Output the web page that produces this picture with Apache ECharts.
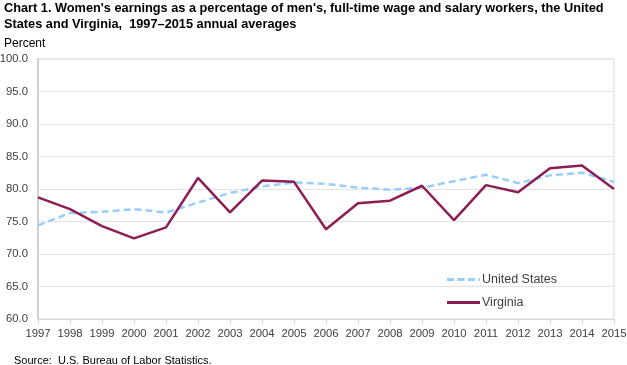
<!DOCTYPE html>
<html><head><meta charset="utf-8">
<script src="https://cdn.jsdelivr.net/npm/echarts@6/dist/echarts.min.js"></script>
<style>html,body{margin:0;padding:0;background:#fff}#c{width:627px;height:365px}</style>
</head><body><div id="c"></div>
<script>
const years = ['1997','1998','1999','2000','2001','2002','2003','2004','2005','2006','2007','2008','2009','2010','2011','2012','2013','2014','2015'];
const unitedStates = [74.4,76.3,76.5,76.9,76.4,77.9,79.4,80.4,81.0,80.8,80.2,79.9,80.2,81.2,82.2,80.9,82.1,82.5,81.1];
const virginia = [78.7,76.9,74.3,72.4,74.1,81.7,76.4,81.3,81.1,73.8,77.8,78.2,80.5,75.2,80.6,79.5,83.2,83.6,80.0];
const yTicks = {min:60,max:100,interval:5};

const dashIcon = 'path://M0,0h7v3h-7z M10.5,0h7v3h-7z M21,0h7v3h-7z M31.5,0h1.5v3h-1.5z';
const solidIcon = 'path://M0,0h33v3h-33z';

const chart = echarts.init(document.getElementById('c'), null, {renderer:'canvas'});
chart.setOption({
  animation:false,
  textStyle:{fontFamily:'Liberation Sans, Arial, sans-serif'},
  title:{
    text:"Chart 1. Women's earnings as a percentage of men's, full-time wage and salary workers, the United\nStates and Virginia,  1997\u20132015 annual averages",
    left:4, top:0, padding:0,
    textStyle:{fontSize:12.75, fontWeight:'bold', color:'#000', lineHeight:16.5, fontFamily:'Liberation Sans, Arial, sans-serif'}
  },
  graphic:[
    {type:'text', left:4, top:38, style:{text:'Percent', fontSize:12, fill:'#000', fontFamily:'Liberation Sans, Arial, sans-serif'}},
    {type:'text', left:14, top:355, style:{text:'Source:  U.S. Bureau of Labor Statistics.', fontSize:11, fill:'#000', fontFamily:'Liberation Sans, Arial, sans-serif'}}
  ],
  grid:{left:38, right:13, top:59, bottom:46, show:true, borderColor:'#d9d9d9', borderWidth:1, containLabel:false, outerBoundsMode:'none'},
  legend:{
    orient:'vertical', left:447, top:273, padding:0, itemWidth:33, itemHeight:3, itemGap:10,
    textStyle:{fontSize:12.5, color:'#404040', padding:[0,0,0,-3]},
    data:[{name:'United States', icon:dashIcon},{name:'Virginia', icon:solidIcon}]
  },
  xAxis:{
    type:'category', data:years, boundaryGap:false,
    axisLine:{lineStyle:{color:'#d9d9d9'}},
    axisTick:{show:true, length:5, interval:0, lineStyle:{color:'#d9d9d9'}},
    axisLabel:{color:'#404040', fontSize:11.3, margin:9, interval:0, hideOverlap:false},
    splitLine:{show:false}
  },
  yAxis:{
    type:'value', min:yTicks.min, max:yTicks.max, interval:yTicks.interval,
    axisLine:{show:true, lineStyle:{color:'#d0d0d0', width:2}},
    axisTick:{show:false},
    axisLabel:{color:'#404040', fontSize:11.3, margin:10, formatter:v=>v.toFixed(1)},
    splitLine:{lineStyle:{color:'#e3e3e3'}}
  },
  series:[
    {name:'United States', type:'line', data:unitedStates, symbol:'none', z:2,
     lineStyle:{color:'#99ccff', width:2.5, type:[7,4]}, itemStyle:{color:'#99ccff'}},
    {name:'Virginia', type:'line', data:virginia, symbol:'none', z:3,
     lineStyle:{color:'#8c1d55', width:2.5}, itemStyle:{color:'#8c1d55'}}
  ]
});
</script></body></html>
